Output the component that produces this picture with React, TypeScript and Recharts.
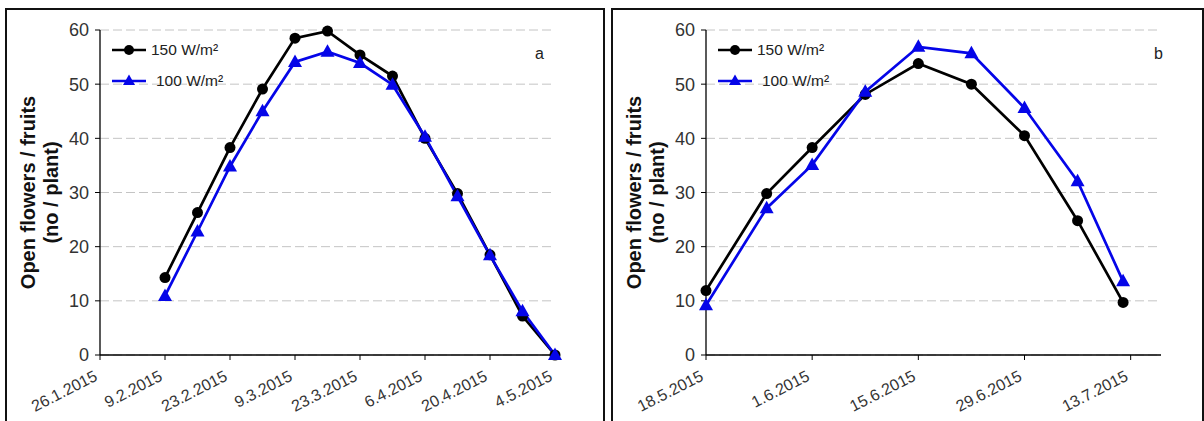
import React from 'react';
import { LineChart, Line, XAxis, YAxis, CartesianGrid } from 'recharts';

// Panel a: weekly counts, Jan–May 2015
const datesA = ['9.2.2015', '16.2.2015', '23.2.2015', '2.3.2015', '9.3.2015', '16.3.2015', '23.3.2015', '30.3.2015', '6.4.2015', '13.4.2015', '20.4.2015', '27.4.2015', '4.5.2015'];
const w150A = [14.3, 26.3, 38.3, 49.1, 58.5, 59.8, 55.4, 51.5, 40.0, 29.8, 18.5, 7.2, 0];
const w100A = [10.9, 22.8, 34.8, 45.0, 54.1, 56.0, 53.9, 49.9, 40.3, 29.3, 18.4, 8.1, 0];
const ticksA = ['26.1.2015', '9.2.2015', '23.2.2015', '9.3.2015', '23.3.2015', '6.4.2015', '20.4.2015', '4.5.2015'];
const endA = '4.5.2015';

// Panel b: May–July 2015
const datesB = ['18.5.2015', '26.5.2015', '1.6.2015', '8.6.2015', '15.6.2015', '22.6.2015', '29.6.2015', '6.7.2015', '12.7.2015'];
const w150B = [11.9, 29.8, 38.3, 48.1, 53.8, 50.0, 40.5, 24.8, 9.7];
const w100B = [9.2, 27.1, 35.1, 48.6, 56.9, 55.7, 45.6, 32.1, 13.6];
const ticksB = ['18.5.2015', '1.6.2015', '15.6.2015', '29.6.2015', '13.7.2015'];
const endB = '17.7.2015';

const yTicks = [0, 10, 20, 30, 40, 50, 60];
const seriesNames = ['150 W/m²', '100 W/m²'];

const FONT = '"Liberation Sans", Arial, sans-serif';
const BLUE = '#0505e8';
const TEXT = '#333';

const dayNum = (s: string) => {
  const [d, m, y] = s.split('.').map(Number);
  return Date.UTC(y, m - 1, d) / 86400000;
};

const Triangle = (p: any) => {
  const { cx, cy } = p;
  if (cx == null || cy == null) return null;
  return <path d={`M${cx},${cy - 7.5} L${cx + 7},${cy + 5} L${cx - 7},${cy + 5} Z`} fill={BLUE} />;
};

const DateTick = (p: any) => {
  const { x, y, payload, labels } = p;
  const lbl = labels.find((l: string) => dayNum(l) === payload.value) || '';
  return (
    <g transform={`translate(${x - 7},${y + 7})`}>
      <text x={0} y={0} dy={12} textAnchor="end" transform="rotate(-27)" fill={TEXT} fontSize={16} fontFamily={FONT}>
        {lbl}
      </text>
    </g>
  );
};

// legend drawn by hand inside the plot's top-left corner
const LegendBox = ({ x, y }: { x: number; y: number }) => (
  <div style={{ position: 'absolute', left: x, top: y, fontFamily: FONT, fontSize: 15.5, color: '#222' }}>
    {seriesNames.map((name, i) => (
      <div key={name} style={{ display: 'flex', alignItems: 'center', height: 31 }}>
        <svg width={36} height={16} style={{ marginRight: i === 0 ? 3 : 8 }}>
          <line x1={0} x2={34} y1={8} y2={8} stroke={i === 0 ? '#000' : BLUE} strokeWidth={2.5} />
          {i === 0 ? <circle cx={17} cy={8} r={5} fill="#000" /> : <path d="M17,1.5 L23,12 L11,12 Z" fill={BLUE} />}
        </svg>
        <span>{name}</span>
      </div>
    ))}
  </div>
);

interface PanelProps {
  left: number;
  dates: string[];
  s150: number[];
  s100: number[];
  ticks: string[];
  end: string;
  letter: string;
  letterX: number;
  marginLeft: number;
  marginRight: number;
  chartWidth: number;
}

const Panel = ({ left, dates, s150, s100, ticks, end, letter, letterX, marginLeft, marginRight, chartWidth }: PanelProps) => {
  const rows = dates.map((d, i) => ({ t: dayNum(d), a: s150[i], b: s100[i] }));
  const plotLeft = marginLeft + 95;
  const top = 30;
  const bottom = 355;
  const midY = (top + bottom) / 2;

  const YTitle = () => (
    <g fontFamily={FONT} fontWeight="bold" fontSize={20} fill="#111">
      <text transform={`translate(${plotLeft - 65},${midY}) rotate(-90)`} textAnchor="middle">Open flowers / fruits</text>
      <text transform={`translate(${plotLeft - 42},${midY}) rotate(-90)`} textAnchor="middle">(no / plant)</text>
    </g>
  );

  return (
    <div style={{ position: 'absolute', left, top: 0, width: chartWidth, height: 421 }}>
      <LineChart width={chartWidth} height={421} data={rows} margin={{ top, right: marginRight, bottom: 6, left: marginLeft }}>
        <CartesianGrid horizontal vertical={false} stroke="#c4c4c4" strokeDasharray="9 4" />
        <XAxis
          type="number"
          dataKey="t"
          domain={[dayNum(ticks[0]), dayNum(end)]}
          ticks={ticks.map(dayNum)}
          interval={0}
          height={60}
          tickSize={5}
          axisLine={{ stroke: '#000', strokeWidth: 1.3 }}
          tickLine={{ stroke: '#000' }}
          tick={<DateTick labels={ticks} />}
        />
        <YAxis
          domain={[0, 60]}
          ticks={yTicks}
          width={95}
          tickSize={5}
          tickMargin={6}
          axisLine={{ stroke: '#000', strokeWidth: 1.3 }}
          tickLine={{ stroke: '#000' }}
          tick={{ fill: TEXT, fontSize: 18, fontFamily: FONT }}
          label={<YTitle />}
        />
        <Line dataKey="a" name={seriesNames[0]} stroke="#000" strokeWidth={2.7} dot={{ r: 5.5, fill: '#000', stroke: '#000', strokeWidth: 0 }} isAnimationActive={false} />
        <Line dataKey="b" name={seriesNames[1]} stroke={BLUE} strokeWidth={2.7} dot={<Triangle />} isAnimationActive={false} />
      </LineChart>
      <LegendBox x={plotLeft + 12} y={34} />
      <div style={{ position: 'absolute', left: letterX, top: 45, fontFamily: FONT, fontSize: 16, color: '#222' }}>{letter}</div>
    </div>
  );
};

export default function App() {
  return (
    <div style={{ position: 'fixed', left: 0, top: 0, width: 1204, height: 421, background: '#fff', overflow: 'hidden' }}>
      <div style={{ position: 'absolute', left: 5, top: 8, width: 596, height: 440, border: '2px solid #111' }} />
      <div style={{ position: 'absolute', left: 611, top: 8, width: 589, height: 440, border: '2px solid #111' }} />
      <Panel left={0} dates={datesA} s150={w150A} s100={w100A} ticks={ticksA} end={endA} letter="a" letterX={535} marginLeft={5} marginRight={48} chartWidth={603} />
      <Panel left={603} dates={datesB} s150={w150B} s100={w100B} ticks={ticksB} end={endB} letter="b" letterX={551} marginLeft={8} marginRight={43} chartWidth={601} />
    </div>
  );
}
